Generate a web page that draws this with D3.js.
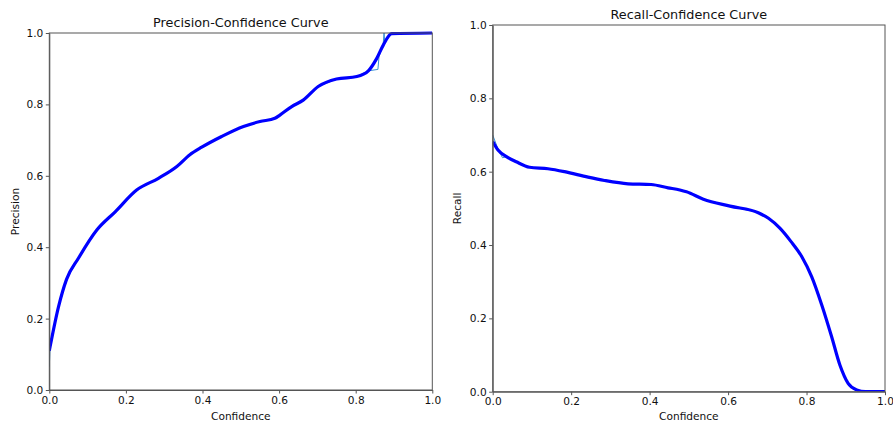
<!DOCTYPE html>
<html>
<head>
<meta charset="utf-8">
<script src="https://cdn.jsdelivr.net/npm/d3@7"></script>
<style>
  html, body { margin: 0; padding: 0; background: #fff; }
  svg { display: block; font-family: "DejaVu Sans", sans-serif; }
</style>
</head>
<body>
<svg id="chart" width="893" height="422"></svg>
<script>
// ---- data ----
const xTicks = [0.0, 0.2, 0.4, 0.6, 0.8, 1.0];
const yTicks = [0.0, 0.2, 0.4, 0.6, 0.8, 1.0];

// Precision-Confidence, all classes (thick)
const precisionConf = [0.0, 0.002, 0.024, 0.045, 0.076, 0.124, 0.172, 0.228, 0.285, 0.333, 0.367, 0.398, 0.45, 0.507, 0.55, 0.589, 0.602, 0.633, 0.663, 0.702, 0.75, 0.803, 0.833, 0.855, 0.872, 0.894, 1.0];
const precisionVal  = [0.11, 0.121, 0.233, 0.31, 0.369, 0.448, 0.499, 0.56, 0.593, 0.626, 0.659, 0.68, 0.71, 0.738, 0.752, 0.761, 0.77, 0.794, 0.812, 0.85, 0.871, 0.878, 0.894, 0.929, 0.966, 0.998, 1.0];
// Precision-Confidence, single class (thin)
const precisionClassConf = [0.0, 0.002, 0.024, 0.045, 0.076, 0.124, 0.172, 0.228, 0.285, 0.333, 0.367, 0.398, 0.45, 0.507, 0.55, 0.589, 0.602, 0.633, 0.663, 0.702, 0.75, 0.803, 0.833, 0.858, 0.861, 0.868, 0.872, 0.874, 0.876, 0.885, 0.894, 1.0];
const precisionClassVal  = [0.065, 0.121, 0.233, 0.31, 0.369, 0.448, 0.499, 0.56, 0.593, 0.626, 0.659, 0.68, 0.71, 0.738, 0.752, 0.761, 0.77, 0.794, 0.812, 0.85, 0.871, 0.878, 0.894, 0.898, 0.935, 0.955, 0.972, 1.0, 0.975, 0.99, 1.0, 1.0];

// Recall-Confidence, all classes (thick)
const recallConf = [0.0, 0.0135, 0.035, 0.06, 0.094, 0.141, 0.183, 0.243, 0.285, 0.345, 0.404, 0.447, 0.477, 0.494, 0.537, 0.605, 0.677, 0.703, 0.732, 0.76, 0.788, 0.813, 0.839, 0.864, 0.885, 0.906, 0.928, 0.95, 1.0];
const recallVal  = [0.682, 0.659, 0.641, 0.627, 0.612, 0.608, 0.600, 0.585, 0.576, 0.567, 0.565, 0.556, 0.550, 0.545, 0.525, 0.506, 0.488, 0.473, 0.446, 0.41, 0.368, 0.314, 0.236, 0.150, 0.073, 0.023, 0.005, 0.0, 0.0];
// Recall-Confidence, single class (thin)
const recallClassConf = [0.0, 0.0135, 0.025, 0.035, 0.06, 0.094, 0.141, 0.183, 0.243, 0.285, 0.345, 0.404, 0.447, 0.477, 0.494, 0.537, 0.605, 0.677, 0.703, 0.732, 0.76, 0.788, 0.813, 0.839, 0.864, 0.885, 0.906, 0.928, 0.95, 1.0];
const recallClassVal  = [0.70, 0.662, 0.638, 0.641, 0.627, 0.612, 0.608, 0.600, 0.585, 0.576, 0.567, 0.565, 0.556, 0.550, 0.545, 0.525, 0.506, 0.488, 0.473, 0.446, 0.41, 0.368, 0.314, 0.236, 0.150, 0.073, 0.023, 0.005, 0.0, 0.0];

const panels = [
  { title: "Precision-Confidence Curve", ylabel: "Precision",
    left: 49.3, right: 432.3, top: 33, bottom: 390,
    titleY: 27, ylabelX: 19,
    thinX: precisionClassConf, thinY: precisionClassVal,
    thickX: precisionConf, thickY: precisionVal },
  { title: "Recall-Confidence Curve", ylabel: "Recall",
    left: 492.7, right: 885, top: 25, bottom: 391.7,
    titleY: 19, ylabelX: 461,
    thinX: recallClassConf, thinY: recallClassVal,
    thickX: recallConf, thickY: recallVal }
];

const svg = d3.select("#chart");
const fmt = d3.format(".1f");
const textColor = "#111";

panels.forEach(p => {
  const x = d3.scaleLinear().domain([0, 1]).range([p.left, p.right]);
  const y = d3.scaleLinear().domain([0, 1]).range([p.bottom, p.top]);
  const g = svg.append("g");

  const clipId = "clip" + Math.round(p.left);
  svg.append("clipPath").attr("id", clipId)
    .append("rect").attr("x", p.left).attr("y", p.top - 2)
    .attr("width", p.right - p.left).attr("height", p.bottom - p.top + 2);

  const thin = p.thinX.map((v, i) => [v, p.thinY[i]]);
  const thick = p.thickX.map((v, i) => [v, p.thickY[i]]);

  g.append("path").datum(thin)
    .attr("clip-path", `url(#${clipId})`)
    .attr("d", d3.line().x(d => x(d[0])).y(d => y(d[1])).curve(d3.curveLinear))
    .attr("fill", "none").attr("stroke", "#3a8fd0").attr("stroke-width", 1);
  g.append("path").datum(thick)
    .attr("clip-path", `url(#${clipId})`)
    .attr("d", d3.line().x(d => x(d[0])).y(d => y(d[1])).curve(d3.curveMonotoneX))
    .attr("fill", "none").attr("stroke", "#0000ff").attr("stroke-width", 3.2)
    .attr("stroke-linejoin", "round");

  // frame
  g.append("rect").attr("x", p.left).attr("y", p.top)
    .attr("width", p.right - p.left).attr("height", p.bottom - p.top)
    .attr("fill", "none").attr("stroke", "#555").attr("stroke-width", 1);

  const xAxis = g.append("g").attr("transform", `translate(0,${p.bottom})`)
    .call(d3.axisBottom(x).tickValues(xTicks).tickFormat(fmt).tickSizeInner(3.5).tickSizeOuter(0).tickPadding(2.5));
  const yAxis = g.append("g").attr("transform", `translate(${p.left},0)`)
    .call(d3.axisLeft(y).tickValues(yTicks).tickFormat(fmt).tickSizeInner(3.5).tickSizeOuter(0).tickPadding(2.5));
  [xAxis, yAxis].forEach(a => {
    a.select(".domain").attr("stroke", "#555");
    a.selectAll(".tick line").attr("stroke", "#555");
    a.selectAll(".tick text").attr("fill", textColor).style("font-size", "10.6px")
      .style("font-family", "'DejaVu Sans', sans-serif");
  });

  g.append("text").attr("x", (p.left + p.right) / 2).attr("y", p.titleY)
    .attr("text-anchor", "middle").attr("fill", textColor)
    .style("font-size", "12.8px").text(p.title);

  g.append("text").attr("x", (p.left + p.right) / 2).attr("y", 419.5)
    .attr("text-anchor", "middle").attr("fill", textColor)
    .style("font-size", "10.6px").text("Confidence");

  g.append("text")
    .attr("transform", `translate(${p.ylabelX},${(p.top + p.bottom) / 2}) rotate(-90)`)
    .attr("text-anchor", "middle").attr("fill", textColor)
    .style("font-size", "10.6px").text(p.ylabel);
});
</script>
</body>
</html>
